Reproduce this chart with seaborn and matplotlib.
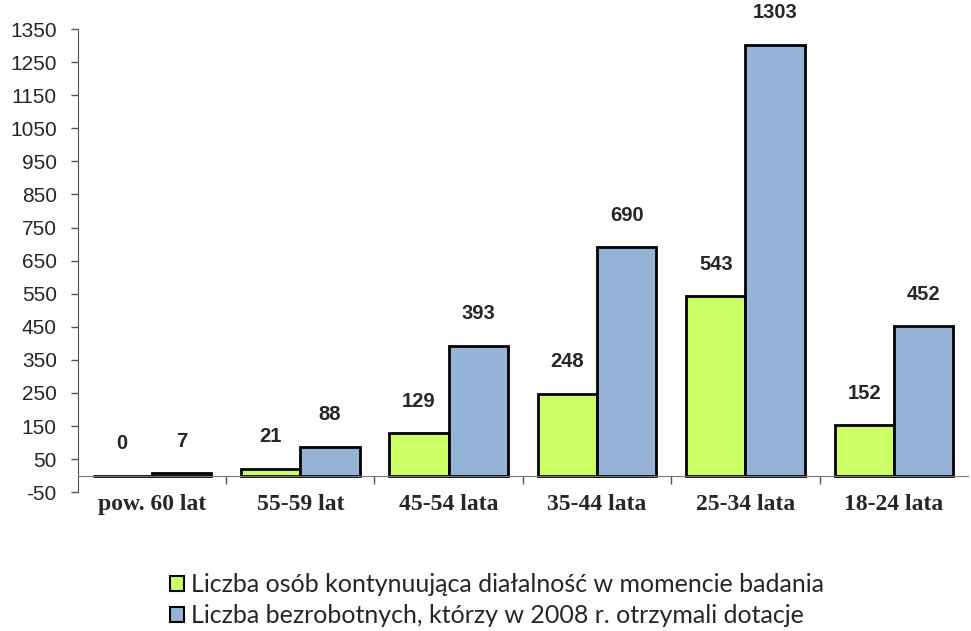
import matplotlib
matplotlib.use('Agg')
import matplotlib.pyplot as plt
from matplotlib.patches import Patch
import seaborn as sns
import pandas as pd

# data
categories = ['pow. 60 lat', '55-59 lat', '45-54 lata', '35-44 lata', '25-34 lata', '18-24 lata']
series_names = ['Liczba osób kontynuująca diałalność w momencie badania',
                'Liczba bezrobotnych, którzy w 2008 r. otrzymali dotacje']
kontynuujacy = [0, 21, 129, 248, 543, 152]
dotacje = [7, 88, 393, 690, 1303, 452]
y_ticks = list(range(-50, 1351, 100))
colors = ['#CCFF66', '#95B3D7']

df = pd.DataFrame({
    'kategoria': categories * 2,
    'seria': [series_names[0]] * len(categories) + [series_names[1]] * len(categories),
    'wartosc': kontynuujacy + dotacje,
})

sns.set_style('white')
plt.rcParams['font.family'] = ['Liberation Sans', 'DejaVu Sans']

fig = plt.figure(figsize=(9.71, 6.31), dpi=100)
ax = fig.add_axes([0.080, 0.220, 0.917, 0.734])

sns.barplot(data=df, x='kategoria', y='wartosc', hue='seria', order=categories,
            hue_order=series_names, palette=colors, width=0.8, saturation=1,
            edgecolor='black', linewidth=2, ax=ax, legend=False)

ax.set_ylim(-50, 1350)
ax.set_xlim(-0.5, len(categories) - 0.5)
ax.set_yticks(y_ticks)
ax.set_yticklabels([str(t) for t in y_ticks], fontsize=15)
ax.tick_params(axis='y', direction='out', length=5, width=1, color='#555555', pad=10, left=True)

for side in ['top', 'right']:
    ax.spines[side].set_visible(False)
ax.spines['left'].set_color('#555555')
ax.spines['bottom'].set_position(('data', 0))
ax.spines['bottom'].set_color('#777777')

# group separators as major ticks, category names as minor ticks
ax.set_xticks([i + 0.5 for i in range(len(categories) - 1)])
ax.set_xticklabels([])
ax.tick_params(axis='x', which='major', direction='out', length=6, width=1, color='#555555', bottom=True)
ax.set_xticks(range(len(categories)), minor=True)
ax.set_xticklabels(categories, minor=True, fontsize=17, fontweight='bold',
                   family='Liberation Serif')
ax.tick_params(axis='x', which='minor', length=0, pad=13)
ax.set_xlabel('')
ax.set_ylabel('')

# value labels
for container in ax.containers:
    ax.bar_label(container, labels=[f'{v:.0f}' for v in container.datavalues],
                 padding=16, fontsize=14.5, fontweight='bold')

handles = [Patch(facecolor=c, edgecolor='black', linewidth=1.5) for c in colors]
fig.legend(handles, series_names, loc='upper left', bbox_to_anchor=(0.165, 0.107),
           frameon=False, prop={'family': ['Lato', 'DejaVu Sans'], 'size': 18},
           handlelength=0.55, handleheight=0.55, handletextpad=0.3, labelspacing=0.3,
           borderaxespad=0)

fig.savefig('out.png', dpi=100)
